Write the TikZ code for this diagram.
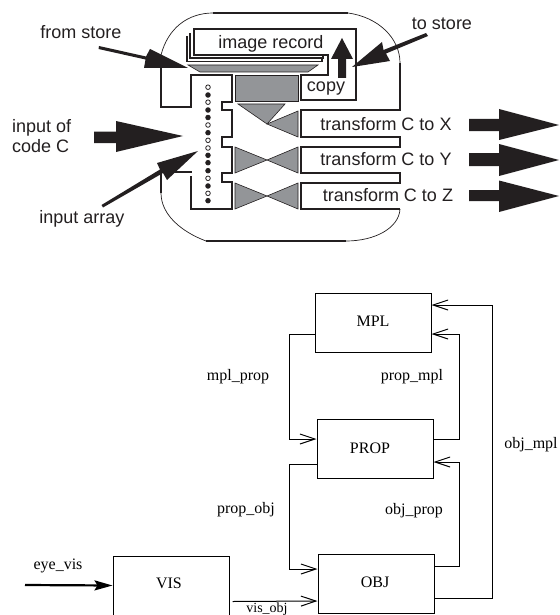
\documentclass[tikz,border=0pt]{standalone}
\usepackage{fontspec}
\setmainfont{Liberation Serif}
\newfontfamily\labelsans{Liberation Sans}
\usetikzlibrary{arrows.meta}
\definecolor{dk}{HTML}{231F20}
\definecolor{gr}{HTML}{939598}
\tikzset{
  x=1pt,y=-1pt,
  thickline/.style={draw=dk,line width=1.9pt,line join=miter},
  thinline/.style={draw=dk,line width=0.7pt},
  graypart/.style={fill=gr,draw=dk,line width=0.6pt},
  fat/.style={fill=dk,draw=none},
  sanstext/.style={inner sep=0pt,anchor=base,text=dk,font=\labelsans\fontsize{18}{20}\selectfont},
  serif/.style={inner sep=0pt,anchor=base,text=black,font=\fontsize{16}{18}\selectfont},
  block/.style={draw=black,line width=1pt,inner sep=0pt,minimum width=116pt,minimum height=59pt,font=\fontsize{16}{18}\selectfont},
  conn/.style={draw=black,line width=1pt,-{Straight Barb[length=15pt,width=10pt]}},
  opendot/.style={circle,draw=dk,fill=white,line width=0.8pt,minimum size=4.6pt,inner sep=0pt},
  fulldot/.style={circle,draw=dk,fill=dk,line width=0.8pt,minimum size=4.6pt,inner sep=0pt}
}
\begin{document}
\begin{tikzpicture}
\useasboundingbox (0,0) rectangle (559,615);
% outer rounded outline
\draw[thinline] (161,55) .. controls (168,28) and (188,13) .. (213,13);
\draw[thickline] (213,13) -- (348,13);
\draw[thinline] (348,13) .. controls (378,17) and (400,38) .. (400,63);
\draw[thickline] (400,63) -- (400,110) -- (301,110) -- (301,137) -- (400,137) -- (400,147) -- (301,147) -- (301,173) -- (400,173) -- (400,183) -- (301,183) -- (301,209) -- (400,209);
\draw[thinline] (400,209) .. controls (399,228) and (375,241) .. (346,241);
\draw[thickline] (346,241) -- (206,241);
\draw[thinline] (206,241) .. controls (182,232) and (161,215) .. (161,193);
\draw[thickline] (161,193) -- (161,172) -- (192,172);
\draw[thickline] (191,176) -- (191,208.7) -- (232,208.7) -- (232,182) -- (222,182) -- (222,173) -- (232,173) -- (232,147) -- (222,147) -- (222,137) -- (232,137) -- (232,110) -- (222,110) -- (222,102) -- (232,102) -- (232,75) -- (191,75) -- (191,107) -- (161,107) -- (161,66);
% image record stack
\draw[thickline] (190,33) -- (190,58) -- (323,58) -- (323,55);
\draw[thickline] (187,36) -- (187,61.5) -- (322,61.5) -- (322,58);
\draw[thickline,fill=white] (194,29) -- (356,29) -- (356,100) -- (301,100) -- (301,75) -- (328,75) -- (328,55) -- (194,55) -- cycle;
\draw[graypart] (188,65) -- (318,65) -- (308,72) -- (200,72) -- cycle;
% gray valves
\draw[graypart] (235,75) rectangle (298,101);
\draw[graypart] (238,104) -- (285,104) -- (267,124) -- cycle;
\draw[graypart] (298,111) -- (298,137) -- (267,124) -- cycle;
\draw[graypart] (235,147) -- (267,160) -- (235,173) -- cycle;
\draw[graypart] (298,147) -- (267,160) -- (298,173) -- cycle;
\draw[graypart] (235,183) -- (267,196) -- (235,209) -- cycle;
\draw[graypart] (298,183) -- (267,196) -- (298,209) -- cycle;
% dots
\foreach \yy/\kind [count=\i] in {87.2/opendot,95/fulldot,102.2/opendot,110/fulldot,117.5/fulldot,125/opendot,132.7/fulldot,140.3/opendot,148/opendot,155.3/fulldot,162.7/fulldot,170.7/fulldot,178.3/opendot,186/fulldot,193.3/opendot,200.7/fulldot}
  \node[\kind] (dot\i) at (208,\yy) {};
% fat arrows
\fill[fat] (99,46) -- (146,56.5) -- (150,49) -- (188,68) -- (144,68) -- (145.5,59.5) -- (98.5,49) -- cycle;
\fill[fat] (94,131.5) -- (116,131.5) -- (116,121) -- (183,136) -- (116,152) -- (116,143) -- (94,143) -- cycle;
\fill[fat] (101.5,205) -- (160,169.5) -- (157,163) -- (198,151) -- (167,180) -- (163,173) -- (103,207.5) -- cycle;
\fill[fat] (426,33) -- (383.5,50) -- (382,42) -- (352,67) -- (390,61) -- (386,53.5) -- (428,36) -- cycle;
\fill[fat] (338,78) -- (346,78) -- (346,59) -- (353,59) -- (342,38) -- (331,59) -- (338,59) -- cycle;
\fill[fat] (469,119) -- (499,119) -- (499,109) -- (559,125) -- (499,140) -- (499,131) -- (469,131) -- cycle;
\fill[fat] (469,153) -- (499,153) -- (499,144) -- (559,160) -- (499,176) -- (499,166) -- (469,166) -- cycle;
\fill[fat] (469,190) -- (499,190) -- (499,180.5) -- (559,196) -- (499,212) -- (499,201) -- (469,201) -- cycle;
% upper labels
\node[sanstext] (lfrom) at (81,39) {from store};
\node[sanstext] (lto) at (442,30) {to store};
\node[sanstext] (limg) at (271,49) {image record};
\node[sanstext] (lcopy) at (326,91.5) {copy};
\node[sanstext,anchor=base west] (lin1) at (12,132.7) {input of};
\node[sanstext,anchor=base west] (lin2) at (12,152.7) {code C};
\node[sanstext] (larr) at (82,223) {input array};
\node[sanstext] (lx) at (386,130.7) {transform C to X};
\node[sanstext] (ly) at (386,165) {transform C to Y};
\node[sanstext] (lz) at (388,201.7) {transform C to Z};
% lower graph
\node[block] (mpl) at (373,322.5) {\raisebox{2pt}{MPL}};
\node[block] (prop) at (375,448.5) {\hspace*{-10pt}\raisebox{1pt}{PROP}};
\node[block] (obj) at (376,583.5) {\hspace*{-2pt}\raisebox{2pt}{OBJ}};
\node[block] (vis) at (171,585.5) {\hspace*{-4pt}\raisebox{3.8pt}{VIS}};
\coordinate (eye) at (25,585);
\draw[draw=black,line width=2.2pt,-{Stealth[length=18pt,width=10pt,inset=3pt]}] (eye) -- (vis.west);
\draw[conn] ([yshift=-12pt]mpl.west) -- ++(-25,0) |- ([yshift=9.5pt]prop.west);
\draw[conn] ([yshift=9.5pt]prop.east) -- ++(26,0) |- ([yshift=-11.5pt]mpl.east);
\draw[conn] ([yshift=-14.5pt]obj.east) -- ++(58,0) |- ([yshift=17.5pt]mpl.east);
\draw[conn] ([yshift=-15.5pt]prop.west) -- ++(-27,0) |- ([yshift=14.5pt]obj.west);
\draw[conn] ([yshift=17.5pt]obj.east) -- ++(25,0) |- ([yshift=-13.5pt]prop.east);
\draw[conn] ([xshift=3pt,yshift=-16pt]vis.east) -- ([yshift=-17.5pt]obj.west);
\node[serif] (leye) at (58,569.3) {eye\_vis};
\node[serif] (lmp) at (238,380) {mpl\_prop};
\node[serif] (lpm) at (412,380) {prop\_mpl};
\node[serif] (lom) at (531,448.3) {obj\_mpl};
\node[serif] (lpo) at (246,513.5) {prop\_obj};
\node[serif] (lop) at (414,514) {obj\_prop};
\node[serif,font=\fontsize{14}{16}\selectfont] (lvo) at (267,612) {vis\_obj};
\end{tikzpicture}
\end{document}
